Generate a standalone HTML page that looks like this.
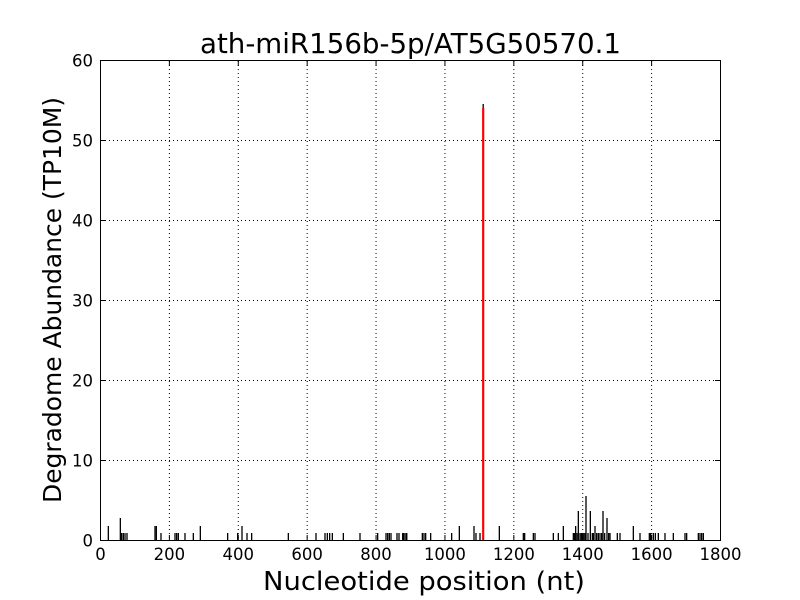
<!DOCTYPE html>
<html><head><meta charset="utf-8"><style>
html,body{margin:0;padding:0;background:#fff;}
svg{display:block;font-family:"DejaVu Sans","Liberation Sans",sans-serif;}
</style></head><body>
<svg id="s" width="800" height="600" xmlns="http://www.w3.org/2000/svg">
<rect width="800" height="600" fill="#fff"/>
<g id="grid" stroke="#000" stroke-width="1" stroke-dasharray="1,3"></g>
<g id="bars" stroke="#000" stroke-width="1.3"></g>
<line x1="483.2" y1="104" x2="483.2" y2="540" stroke="#000" stroke-width="1.3"/>
<line x1="483.2" y1="108" x2="483.2" y2="540" stroke="#ff0000" stroke-width="2.2"/>
<rect x="100.5" y="60.5" width="620" height="480" fill="none" stroke="#000" stroke-width="1"/>
<g id="ticks" stroke="#000" stroke-width="1"></g>
<g id="lab" font-size="16.5" fill="#000"></g>
<text x="410.5" y="53" font-size="28" text-anchor="middle" textLength="421" lengthAdjust="spacingAndGlyphs">ath-miR156b-5p/AT5G50570.1</text>
<text x="424" y="590" font-size="26" text-anchor="middle" textLength="322" lengthAdjust="spacingAndGlyphs">Nucleotide position (nt)</text>
<text transform="translate(61,300) rotate(-90)" font-size="25" text-anchor="middle" textLength="406" lengthAdjust="spacingAndGlyphs">Degradome Abundance (TP10M)</text>
</svg>
<script>
var NS="http://www.w3.org/2000/svg";
function el(p,t,a,txt){var e=document.createElementNS(NS,t);for(var k in a)e.setAttribute(k,a[k]);if(txt)e.textContent=txt;document.getElementById(p).appendChild(e);}
for(var i=1;i<9;i++){var x=100.5+i*620/9;el("grid","line",{x1:x,y1:61,x2:x,y2:540});}
for(var j=1;j<6;j++){var y=540.5-j*80;el("grid","line",{x1:101,y1:y,x2:720,y2:y});}
for(var i=0;i<=9;i++){var x=100.5+i*620/9;el("ticks","line",{x1:x,y1:540,x2:x,y2:535});el("ticks","line",{x1:x,y1:61,x2:x,y2:66});
el("lab","text",{x:x,y:560,"text-anchor":"middle"},String(i*200));}
for(var j=0;j<=6;j++){var y=540.5-j*80;el("ticks","line",{x1:101,y1:y,x2:106,y2:y});el("ticks","line",{x1:720,y1:y,x2:715,y2:y});
el("lab","text",{x:93,y:y+6,"text-anchor":"end"},String(j*10));}
var z1=[[40,14],[76,22],[80,7],[85,7],[90,7],[96,7],[180,14],[184,14],[198,7],[240,7],[245,7],[250,7],[270,7],[295,7],[316,14],[398,7],[428,7],[441,14],[456,7],[470,7],[580,7],[663,7],[690,7],[697,7],[704,7],[712,7],[745,7],[795,7],[848,7],[873,7],[878,7],[883,7],[888,7],[906,7],[912,7],[925,7],[930,7],[935,7]];
var z2=[[8,7],[15,7],[20,7],[67,7],[72,7],[77,7],[92,7],[155,7],[178,14],[222,14],[228,7],[240,7],[298,14],[370,7],[374,7],[400,7],[405,7],[460,7],[475,7],[490,14],[520,7],[524,7],[527,14],[531,7],[535,29],[540,7],[544,7],[548,7],[552,7],[556,7],[558,44],[564,7],[571,29],[577,7],[580,7],[585,14],[590,7],[595,7],[600,7],[605,7],[609,29],[614,7],[621,22],[626,7],[630,7],[652,7],[660,7],[700,14],[720,7],[748,7],[752,7],[760,7],[766,7],[775,7],[795,7],[820,7],[855,7],[860,7],[895,7],[900,7],[905,7],[910,7]];
z1.forEach(function(b){var x=95+b[0]/3;el("bars","line",{x1:x,y1:540-b[1],x2:x,y2:540});});
z2.forEach(function(b){var x=400+b[0]/3;el("bars","line",{x1:x,y1:540-b[1],x2:x,y2:540});});
</script>
</body></html>
